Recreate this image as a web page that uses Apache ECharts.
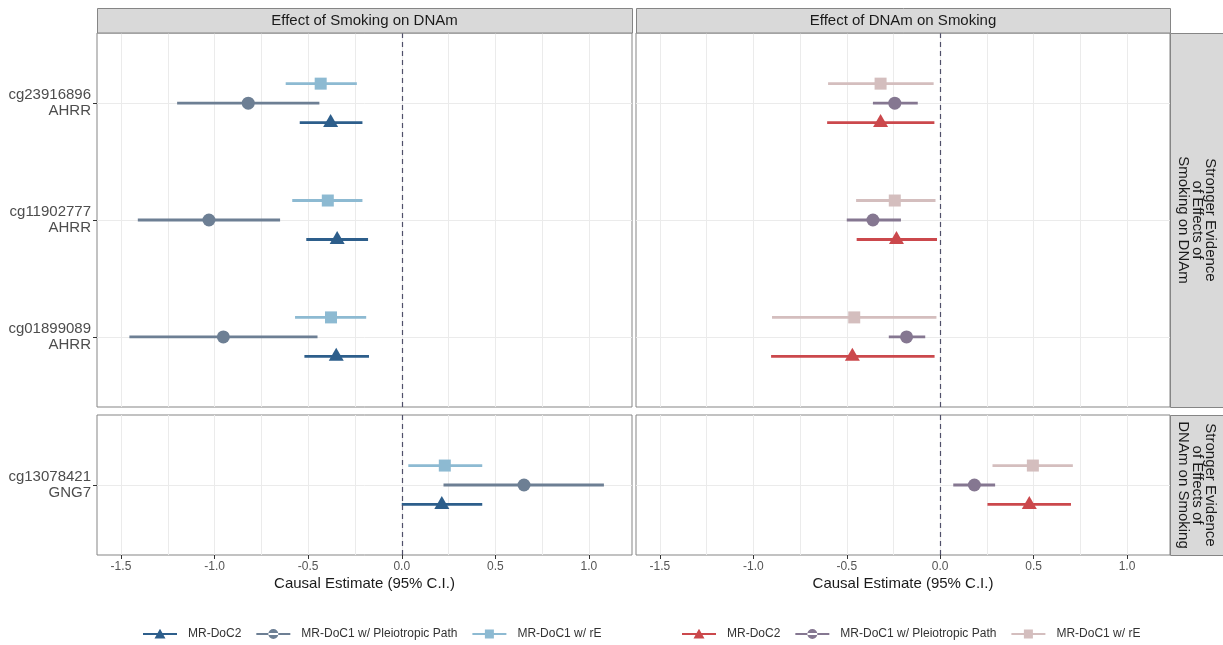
<!DOCTYPE html>
<html><head><meta charset="utf-8">
<script src="https://cdn.jsdelivr.net/npm/echarts@6/dist/echarts.min.js"></script>
<style>html,body{margin:0;padding:0;background:#fff}#c{width:1223px;height:645px}</style>
</head><body><div id="c"></div>
<script>
// ---------- data ----------
const topRows = ['cg23916896\nAHRR', 'cg11902777\nAHRR', 'cg01899089\nAHRR'];
const bottomRows = ['cg13078421\nGNG7'];
const methods = ['MR-DoC2', 'MR-DoC1 w/ Pleiotropic Path', 'MR-DoC1 w/ rE'];
const colTitles = ['Effect of Smoking on DNAm', 'Effect of DNAm on Smoking'];
const rowTitles = ['Stronger Evidence\nof Effects of\nSmoking on DNAm', 'Stronger Evidence\nof Effects of\nDNAm on Smoking'];
const xTicks = [-1.5, -1.0, -0.5, 0, 0.5, 1.0];
const xTickLabels = ['-1.5', '-1.0', '-0.5', '0.0', '0.5', '1.0'];
const xMinor = [-1.25, -0.75, -0.25, 0.25, 0.75];
const xTitle = 'Causal Estimate (95% C.I.)';

// [estimate, lower, upper]; rows: cg23916896, cg11902777, cg01899089, cg13078421
const smk_doc2  = [[-0.38, -0.545, -0.21], [-0.345, -0.51, -0.18], [-0.35, -0.52, -0.175], [0.214, 0.0, 0.43]];
const smk_pleio = [[-0.82, -1.20, -0.44], [-1.03, -1.41, -0.65], [-0.953, -1.455, -0.45], [0.653, 0.223, 1.08]];
const smk_re    = [[-0.433, -0.62, -0.24], [-0.395, -0.585, -0.21], [-0.378, -0.57, -0.19], [0.23, 0.035, 0.43]];
const dna_doc2  = [[-0.319, -0.605, -0.031], [-0.234, -0.447, -0.017], [-0.47, -0.905, -0.03], [0.477, 0.253, 0.70]];
const dna_pleio = [[-0.243, -0.36, -0.12], [-0.36, -0.50, -0.21], [-0.18, -0.275, -0.08], [0.183, 0.07, 0.294]];
const dna_re    = [[-0.319, -0.60, -0.035], [-0.243, -0.45, -0.025], [-0.46, -0.90, -0.02], [0.496, 0.28, 0.71]];

// ---------- styling / layout ----------
const FONT = '"Liberation Sans", Arial, sans-serif';
const X_MIN = -1.628, X_MAX = 1.23;
const BORDER = '#858585', GRIDC = '#ebebeb', STRIP = '#d9d9d9';
const grids = [
  {left: 97, top: 33, width: 535, height: 374},   // top-left
  {left: 636, top: 33, width: 534, height: 374},  // top-right
  {left: 97, top: 415, width: 535, height: 140},  // bottom-left
  {left: 636, top: 415, width: 534, height: 140}  // bottom-right
];
const sides = [
  {prefix: '', colors: ['#2d5e8b', '#6d7f94', '#8dbad2'], data: [smk_doc2, smk_pleio, smk_re]},
  {prefix: 'R|', colors: ['#cb484c', '#857791', '#d4bebe'], data: [dna_doc2, dna_pleio, dna_re]}
];
const dodge = [1 / 6, 0, -1 / 6];
const symbols = ['triangle', 'circle', 'rect'];
const symSizes = [[15, 13], 13, 12];
const symOffsets = [[0, -2], [0, 0], [0, 0]];

const frame = 'M0 0 L0.01 0 L0 0.01 Z M40 12 L39.99 12 L40 11.99 Z ';
const bar = 'M0 5 H34 V7 H0 Z ';
const legendIcons = [
  'path://' + frame + bar + 'M11.5 10.5 L17 0.8 L22.5 10.5 Z',
  'path://' + frame + bar + 'M12 6 A5 5 0 1 0 22 6 A5 5 0 1 0 12 6 Z',
  'path://' + frame + bar + 'M12.5 1.5 H21.5 V10.5 H12.5 Z'
];

const xAxes = [], yAxes = [], series = [];
grids.forEach((g, gi) => {
  const isBottom = gi >= 2, isLeft = gi % 2 === 0;
  const rows = isBottom ? bottomRows : topRows;
  xAxes.push({
    type: 'value', gridIndex: gi, min: X_MIN, max: X_MAX, position: 'bottom',
    axisLine: {show: false, onZero: false},
    axisTick: {show: isBottom, length: 4, customValues: xTicks, lineStyle: {color: '#333', width: 1}},
    axisLabel: {show: isBottom, customValues: xTicks, margin: 6, fontSize: 12, fontFamily: FONT, color: '#555',
      formatter: v => xTickLabels[xTicks.findIndex(t => Math.abs(t - v) < 1e-9)]},
    splitLine: {show: true, lineStyle: {color: GRIDC, width: 1}},
    name: isBottom ? xTitle : '', nameLocation: 'middle', nameGap: 21,
    nameTextStyle: {fontSize: 15, fontFamily: FONT, color: '#1a1a1a'}
  });
  xAxes.push({
    type: 'value', gridIndex: gi, min: X_MIN, max: X_MAX, position: 'bottom',
    axisLine: {show: false, onZero: false}, axisLabel: {show: false},
    axisTick: {show: false, customValues: xMinor},
    splitLine: {show: true, lineStyle: {color: GRIDC, width: 1}}
  });
  const yVals = rows.map((r, i) => i + 1);
  yAxes.push({
    type: 'value', gridIndex: gi, inverse: true, min: 0.4, max: rows.length + 0.6, position: 'left',
    axisLine: {show: false, onZero: false},
    axisTick: {show: isLeft, length: 4, customValues: yVals, lineStyle: {color: '#333'}},
    axisLabel: {show: isLeft, customValues: yVals, margin: 6, fontSize: 15, lineHeight: 16, fontFamily: FONT,
      color: '#4d4d4d', align: 'right', formatter: v => rows[Math.round(v) - 1]},
    splitLine: {show: true, lineStyle: {color: GRIDC, width: 1}}
  });

  const side = sides[isLeft ? 0 : 1];
  const rowIdx = isBottom ? [3] : [0, 1, 2];
  [2, 1, 0].forEach(m => {
    const vals = side.data[m];
    const name = side.prefix + methods[m];
    const color = side.colors[m];
    series.push({
      type: 'custom', name, xAxisIndex: gi * 2, yAxisIndex: gi, z: 3, silent: true,
      itemStyle: {color},
      encode: {x: [0, 1], y: 2},
      data: rowIdx.map((ri, k) => [vals[ri][1], vals[ri][2], k + 1 + dodge[m]]),
      renderItem: (params, api) => {
        const p1 = api.coord([api.value(0), api.value(2)]);
        const p2 = api.coord([api.value(1), api.value(2)]);
        return {type: 'line', shape: {x1: p1[0], y1: p1[1], x2: p2[0], y2: p2[1]},
          style: {stroke: color, lineWidth: 2.8}};
      }
    });
    const sc = {
      type: 'scatter', name, xAxisIndex: gi * 2, yAxisIndex: gi, z: 4, silent: true,
      symbol: symbols[m], symbolSize: symSizes[m], symbolOffset: symOffsets[m],
      itemStyle: {color, opacity: 1},
      data: rowIdx.map((ri, k) => [vals[ri][0], k + 1 + dodge[m]])
    };
    if (m === 2) {
      sc.markLine = {silent: true, symbol: 'none', label: {show: false}, animation: false,
        lineStyle: {type: [5, 4], color: '#50506a', width: 1.2},
        data: [{xAxis: 0}]};
    }
    series.push(sc);
  });
});

const graphics = [];
// column strips
[[97, 535], [636, 534]].forEach(([x, w], i) => {
  graphics.push({type: 'rect', shape: {x: x + 0.5, y: 8.5, width: w, height: 24.5},
    style: {fill: STRIP, stroke: BORDER, lineWidth: 1}, z: 10});
  graphics.push({type: 'text', x: x + w / 2, y: 21, z: 11,
    style: {text: colTitles[i], font: '15px ' + FONT, fill: '#1a1a1a', align: 'center', verticalAlign: 'middle'}});
});
// row strips
[[33, 374], [415, 140]].forEach(([y, h], i) => {
  graphics.push({type: 'rect', shape: {x: 1170.5, y: y + 0.5, width: 70, height: h},
    style: {fill: STRIP, stroke: BORDER, lineWidth: 1}, z: 10});
  graphics.push({type: 'text', x: 1197, y: y + h / 2, rotation: -Math.PI / 2, z: 11,
    style: {text: rowTitles[i], font: '15px ' + FONT, lineHeight: 13.5, fill: '#1a1a1a', align: 'center', verticalAlign: 'middle'}});
});

function legendFor(side, left) {
  return {
    left, top: 623, orient: 'horizontal', itemWidth: 40, itemHeight: 12, itemGap: 15,
    selectedMode: false,
    textStyle: {fontSize: 12, fontFamily: FONT, color: '#333'},
    formatter: n => n.replace('R|', ''),
    data: methods.map((m, i) => ({name: side.prefix + m, icon: legendIcons[i], itemStyle: {color: side.colors[i]}}))
  };
}

const option = {
  animation: false,
  backgroundColor: '#fff',
  grid: grids.map(g => Object.assign({show: true, borderColor: BORDER, borderWidth: 1, backgroundColor: 'transparent',
    containLabel: false, outerBoundsMode: 'none'}, g)),
  xAxis: xAxes,
  yAxis: yAxes,
  legend: [legendFor(sides[0], 138), legendFor(sides[1], 677)],
  graphic: graphics,
  series
};
const chart = echarts.init(document.getElementById('c'));
chart.setOption(option);
</script>
</body></html>
